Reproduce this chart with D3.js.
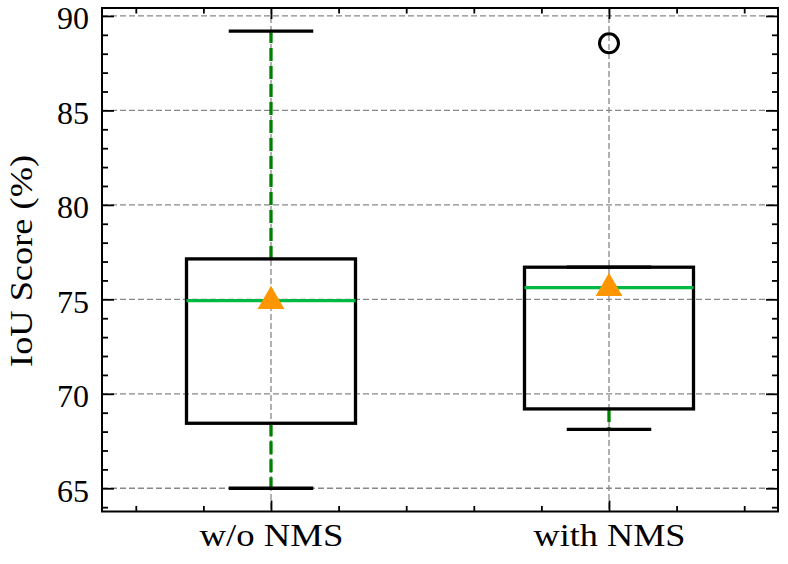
<!DOCTYPE html>
<html>
<head>
<meta charset="utf-8">
<title>IoU Score box plot</title>
<script src="https://d3js.org/d3.v7.min.js"></script>
<style>
  body { margin: 0; background: #fff; }
  text { font-family: "Liberation Serif", "DejaVu Serif", serif; }
</style>
</head>
<body>
<script>
// data
var categories = ["w/o NMS", "with NMS"];
var q1 = [68.44, 69.20];
var q3 = [77.14, 76.70];
var medians = [74.93, 75.62];
var means = [74.98, 75.67];
var whiskerLow = [65.0, 68.12];
var whiskerHigh = [89.2, 76.70];
var outliers = [[], [88.55]];
var yTicks = [65, 70, 75, 80, 85, 90];

var width = 788, height = 564;
var margin = {left: 102, right: 10, top: 8, bottom: 52.5};
var innerW = width - margin.left - margin.right;
var innerH = height - margin.top - margin.bottom;

// the reference font (Computer Modern) runs wider than Liberation Serif
var labelWidths = [144, 152];

var boxes = categories.map(function(c, i) {
  return {name: c, pos: i + 1, q1: q1[i], q3: q3[i], med: medians[i], mean: means[i],
          lo: whiskerLow[i], hi: whiskerHigh[i], out: outliers[i]};
});

var x = d3.scaleLinear().domain([0.5, 2.5]).range([0, innerW]);
var y = d3.scaleLinear().domain([63.77, 90.42]).range([innerH, 0]);

var svg = d3.select("body").append("svg")
  .attr("width", width)
  .attr("height", height);

var g = svg.append("g").attr("transform", "translate(" + margin.left + "," + margin.top + ")");

// grid
g.selectAll(".hgrid").data(yTicks).enter().append("line")
  .attr("x1", 0).attr("x2", innerW)
  .attr("y1", function(d) { return y(d); }).attr("y2", function(d) { return y(d); })
  .style("stroke", "#888").style("stroke-width", 1.3).style("stroke-dasharray", "6,3");
g.selectAll(".vgrid").data(boxes).enter().append("line")
  .attr("x1", function(d) { return x(d.pos); }).attr("x2", function(d) { return x(d.pos); })
  .attr("y1", 0).attr("y2", innerH)
  .style("stroke", "#888").style("stroke-width", 1.3).style("stroke-dasharray", "6,3");

var bw = 0.5, cw = 0.25, lw = 3.3;

var box = g.selectAll(".box").data(boxes).enter().append("g");

// whiskers
box.append("line")
  .attr("x1", function(d) { return x(d.pos); }).attr("x2", function(d) { return x(d.pos); })
  .attr("y1", function(d) { return y(d.q3); }).attr("y2", function(d) { return y(d.hi); })
  .style("stroke", "#008000").style("stroke-width", lw).style("stroke-dasharray", "13,5");
box.append("line")
  .attr("x1", function(d) { return x(d.pos); }).attr("x2", function(d) { return x(d.pos); })
  .attr("y1", function(d) { return y(d.q1); }).attr("y2", function(d) { return y(d.lo); })
  .style("stroke", "#008000").style("stroke-width", lw).style("stroke-dasharray", "13,5");

// caps
["lo", "hi"].forEach(function(k) {
  box.append("line")
    .attr("x1", function(d) { return x(d.pos - cw / 2); }).attr("x2", function(d) { return x(d.pos + cw / 2); })
    .attr("y1", function(d) { return y(d[k]); }).attr("y2", function(d) { return y(d[k]); })
    .style("stroke", "#000").style("stroke-width", lw);
});

// boxes
box.append("rect")
  .attr("x", function(d) { return x(d.pos - bw / 2); })
  .attr("width", x(1 + bw) - x(1))
  .attr("y", function(d) { return y(d.q3); })
  .attr("height", function(d) { return y(d.q1) - y(d.q3); })
  .style("fill", "none").style("stroke", "#000").style("stroke-width", lw);

// medians
box.append("line")
  .attr("x1", function(d) { return x(d.pos - bw / 2); }).attr("x2", function(d) { return x(d.pos + bw / 2); })
  .attr("y1", function(d) { return y(d.med); }).attr("y2", function(d) { return y(d.med); })
  .style("stroke", "#00B945").style("stroke-width", lw);

// means
var tri = d3.symbol().type(d3.symbolTriangle).size(310);
box.append("path")
  .attr("d", tri)
  .attr("transform", function(d) { return "translate(" + x(d.pos) + "," + (y(d.mean) + 1.5) + ")"; })
  .style("fill", "#FF9500");

// outliers
box.each(function(d) {
  d3.select(this).selectAll(".out").data(d.out).enter().append("circle")
    .attr("cx", x(d.pos)).attr("cy", function(v) { return y(v); })
    .attr("r", 9.5)
    .style("fill", "none").style("stroke", "#000").style("stroke-width", 3);
});

// axes, ticks inward
function style(a) {
  a.select(".domain").remove();
  a.selectAll(".tick line").style("stroke", "#000").style("stroke-width", 1.8);
  a.selectAll("text").style("font-size", "32px").style("fill", "#000");
}

var yMinor = d3.range(64, 91, 1).filter(function(v) { return v % 5 !== 0; });
var xMinor = d3.range(0.6, 2.45, 0.2).map(function(v) { return Math.round(v * 10) / 10; })
  .filter(function(v) { return v !== 1 && v !== 2; });
var xMajor = boxes.map(function(d) { return d.pos; });

g.append("g").call(d3.axisLeft(y).tickValues(yTicks).tickSize(-12).tickPadding(13).tickFormat(d3.format("d")))
  .call(style)
  .selectAll("text").attr("dy", "0.4em");
g.append("g").call(d3.axisLeft(y).tickValues(yMinor).tickSize(-6).tickFormat("")).call(style);
g.append("g").attr("transform", "translate(" + innerW + ",0)")
  .call(d3.axisRight(y).tickValues(yTicks).tickSize(-12).tickFormat("")).call(style);
g.append("g").attr("transform", "translate(" + innerW + ",0)")
  .call(d3.axisRight(y).tickValues(yMinor).tickSize(-6).tickFormat("")).call(style);

g.append("g").attr("transform", "translate(0," + innerH + ")")
  .call(d3.axisBottom(x).tickValues(xMajor).tickSize(-11).tickPadding(12)
    .tickFormat(function(d, i) { return categories[i]; }))
  .call(style)
  .selectAll("text")
    .attr("textLength", function(d, i) { return labelWidths[i]; })
    .attr("lengthAdjust", "spacingAndGlyphs");
g.append("g").attr("transform", "translate(0," + innerH + ")")
  .call(d3.axisBottom(x).tickValues(xMinor).tickSize(-5.5).tickFormat("")).call(style);
g.append("g")
  .call(d3.axisTop(x).tickValues(xMajor).tickSize(-11).tickFormat("")).call(style);
g.append("g")
  .call(d3.axisTop(x).tickValues(xMinor).tickSize(-5.5).tickFormat("")).call(style);

// frame
g.append("rect")
  .attr("width", innerW).attr("height", innerH)
  .style("fill", "none").style("stroke", "#000").style("stroke-width", 2);

// y label
svg.append("text")
  .attr("transform", "translate(32," + (margin.top + y(77.03)) + ") rotate(-90)")
  .attr("text-anchor", "middle")
  .attr("textLength", 212)
  .attr("lengthAdjust", "spacingAndGlyphs")
  .style("font-size", "32px")
  .text("IoU Score (%)");
</script>
</body>
</html>
